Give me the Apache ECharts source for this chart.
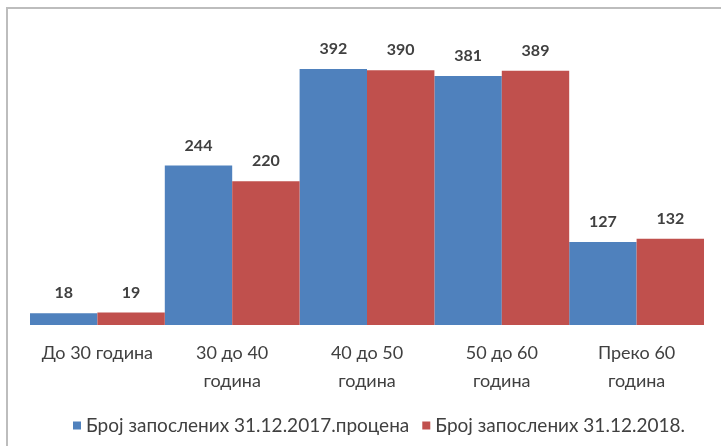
<!DOCTYPE html>
<html>
<head>
<meta charset="utf-8">
<script src="https://cdn.jsdelivr.net/npm/echarts@6/dist/echarts.min.js"></script>
<style>
html,body{margin:0;padding:0;background:#fff;}
#c{width:721px;height:446px;}
</style>
</head>
<body>
<div id="c"></div>
<script>
const categories = ['До 30 година', '30 до 40\nгодина', '40 до 50\nгодина', '50 до 60\nгодина', 'Преко 60\nгодина'];
const seriesNames = ['Број запослених 31.12.2017.процена', 'Број запослених 31.12.2018.'];
const values2017 = [18, 244, 392, 381, 127];
const values2018 = [19, 220, 390, 389, 132];

const FONT = 'Lato, "Open Sans", sans-serif';
const chart = echarts.init(document.getElementById('c'));
chart.setOption({
  animation: false,
  color: ['#4F81BD', '#C0504D'],
  graphic: [{
    type: 'rect',
    shape: { x: 7, y: 8, width: 800, height: 600 },
    style: { fill: 'none', stroke: '#bdbdbd', lineWidth: 2 },
    silent: true
  }],
  grid: { left: 30, right: 17, top: 31, bottom: 121 },
  legend: {
    left: 68, top: 411,
    icon: 'rect', itemWidth: 8, itemHeight: 8, itemGap: 13,
    textStyle: { color: '#404040', fontSize: 19, fontFamily: FONT }
  },
  xAxis: {
    type: 'category',
    data: categories,
    axisLine: { show: false },
    axisTick: { show: false },
    axisLabel: { color: '#404040', fontSize: 18, fontFamily: FONT, lineHeight: 28, margin: 14, interval: 0 }
  },
  yAxis: {
    type: 'value', min: 0, max: 450, show: false,
    splitLine: { show: false }
  },
  series: [
    {
      name: seriesNames[0], type: 'bar', data: values2017,
      barGap: '0%', barCategoryGap: '0%',
      label: { show: true, position: 'top', distance: 12, color: '#404040', fontWeight: 'bold', fontSize: 16, fontFamily: FONT }
    },
    {
      name: seriesNames[1], type: 'bar', data: values2018,
      barGap: '0%', barCategoryGap: '0%',
      label: { show: true, position: 'top', distance: 12, color: '#404040', fontWeight: 'bold', fontSize: 16, fontFamily: FONT }
    }
  ]
});
</script>
</body>
</html>
